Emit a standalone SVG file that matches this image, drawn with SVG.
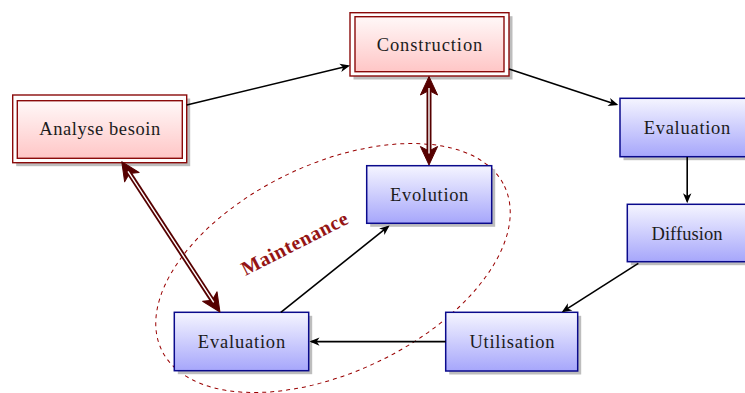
<svg xmlns="http://www.w3.org/2000/svg" width="745" height="393" viewBox="0 0 745 393">
  <style>
    .lbl { font-family: "Liberation Serif", "Times New Roman", serif; font-size: 18.5px; fill: #1c1c1c; text-anchor: middle; }
    .shadow { fill: #bdbdbd; }
    .blue { fill: url(#gBlue); stroke: #0a0a8c; stroke-width: 1.5; }
    .redOuter { fill: #ffffff; stroke: #8a0a0a; stroke-width: 1.4; }
    .redInner { fill: url(#gRed); stroke: #8a0a0a; stroke-width: 1.4; }
    .flow { fill: none; stroke: #000000; stroke-width: 1.6; marker-end: url(#tip); }
    .link { fill: none; stroke: #560000; stroke-width: 5; marker-start: url(#bigTip); marker-end: url(#bigTip); }
    .linkCore { fill: none; stroke: #ffffff; stroke-width: 1.4; }
  </style>
  <defs>
    <linearGradient id="gBlue" x1="0" y1="0" x2="0" y2="1">
      <stop offset="0" stop-color="#f5f5ff"/>
      <stop offset="1" stop-color="#a6a6fb"/>
    </linearGradient>
    <linearGradient id="gRed" x1="0" y1="0" x2="0" y2="1">
      <stop offset="0" stop-color="#fff8f8"/>
      <stop offset="1" stop-color="#ffc6c6"/>
    </linearGradient>
    <!-- small stealth head: tip 2px ahead of the line end -->
    <marker id="tip" markerUnits="userSpaceOnUse" viewBox="-10 -6 14 12" refX="0" refY="0" markerWidth="14" markerHeight="12" orient="auto">
      <path d="M2,0 L-8,-4.2 L-5.2,0 L-8,4.2 Z" fill="#000000"/>
    </marker>
    <!-- large stealth head for the double links: notch at line end, tip 14px ahead -->
    <marker id="bigTip" markerUnits="userSpaceOnUse" viewBox="-6 -10 22 20" refX="0" refY="0" markerWidth="22" markerHeight="20" orient="auto-start-reverse">
      <path d="M14,0 L-4.5,-8.6 L0,0 L-4.5,8.6 Z" fill="#560000" stroke="#560000" stroke-width="1" stroke-linejoin="round"/>
    </marker>
  </defs>

  <rect width="745" height="393" fill="#ffffff"/>

  <!-- maintenance loop -->
  <g id="maintenance">
    <ellipse cx="333" cy="268" rx="190" ry="104" transform="rotate(-25.5 333 268)" fill="none" stroke="#990000" stroke-width="1" stroke-dasharray="4 4"/>
  </g>

  <!-- nodes -->
  <g id="analyse-besoin">
    <rect class="shadow" x="16.2" y="98.5" width="174" height="67.7"/>
    <rect class="redOuter" x="12.7" y="95" width="174" height="67.7"/>
    <rect class="redInner" x="17.3" y="100.7" width="165" height="57.6"/>
    <text class="lbl" x="99.7" y="134.5" textLength="121" lengthAdjust="spacing">Analyse besoin</text>
  </g>

  <g id="construction">
    <rect class="shadow" x="353.5" y="16.2" width="159" height="63.3"/>
    <rect class="redOuter" x="350" y="12.7" width="159" height="63.3"/>
    <rect class="redInner" x="355" y="16.7" width="149" height="55"/>
    <text class="lbl" x="429.5" y="50.7" textLength="105.7" lengthAdjust="spacing">Construction</text>
  </g>

  <g id="evaluation-deploy">
    <rect class="shadow" x="623.5" y="101.8" width="134" height="58.4"/>
    <rect class="blue" x="620" y="98.3" width="134" height="58.4"/>
    <text class="lbl" x="687" y="134" textLength="86.7" lengthAdjust="spacing">Evaluation</text>
  </g>

  <g id="diffusion">
    <rect class="shadow" x="630.8" y="207.8" width="119.4" height="57.4"/>
    <rect class="blue" x="627.3" y="204.3" width="119.4" height="57.4"/>
    <text class="lbl" x="687" y="239.5" textLength="71" lengthAdjust="spacing">Diffusion</text>
  </g>

  <g id="utilisation">
    <rect class="shadow" x="449.2" y="315.8" width="132" height="58.7"/>
    <rect class="blue" x="445.7" y="312.3" width="132" height="58.7"/>
    <text class="lbl" x="512" y="347.8" textLength="85" lengthAdjust="spacing">Utilisation</text>
  </g>

  <g id="evaluation-maint">
    <rect class="shadow" x="177.8" y="315.8" width="134.4" height="58.4"/>
    <rect class="blue" x="174.3" y="312.3" width="134.4" height="58.4"/>
    <text class="lbl" x="241.5" y="348.2" textLength="87.3" lengthAdjust="spacing">Evaluation</text>
  </g>

  <g id="evolution">
    <rect class="shadow" x="370.2" y="169.2" width="125" height="57.6"/>
    <rect class="blue" x="366.7" y="165.7" width="125" height="57.6"/>
    <text class="lbl" x="429.2" y="201.3" textLength="78.3" lengthAdjust="spacing">Evolution</text>
  </g>

  <!-- connectors -->
  <g id="connectors">
    <path class="flow" d="M186.7,105 L348.1,66"/>
    <path class="flow" d="M509,69 L616.4,104.4"/>
    <path class="flow" d="M687.2,157 L687.2,201.3"/>
    <path class="flow" d="M638.3,263.3 L563.4,311.2"/>
    <path class="flow" d="M445.7,341.6 L311.5,341.6"/>
    <path class="flow" d="M280.8,312.3 L388,226.7"/>

    <path class="link" d="M429,90.5 L429,151"/>
    <path class="linkCore" d="M429,88 L429,153.5"/>
    <path class="link" d="M129.4,173.4 L212.3,300.3"/>
    <path class="linkCore" d="M128,171.3 L213.7,302.4"/>
  </g>

  <text x="297.5" y="249.5" transform="rotate(-27 297.5 249.5)" font-family="Liberation Serif, Times New Roman, serif" font-size="20" font-weight="bold" fill="#951515" text-anchor="middle" textLength="117" lengthAdjust="spacing">Maintenance</text>
</svg>
